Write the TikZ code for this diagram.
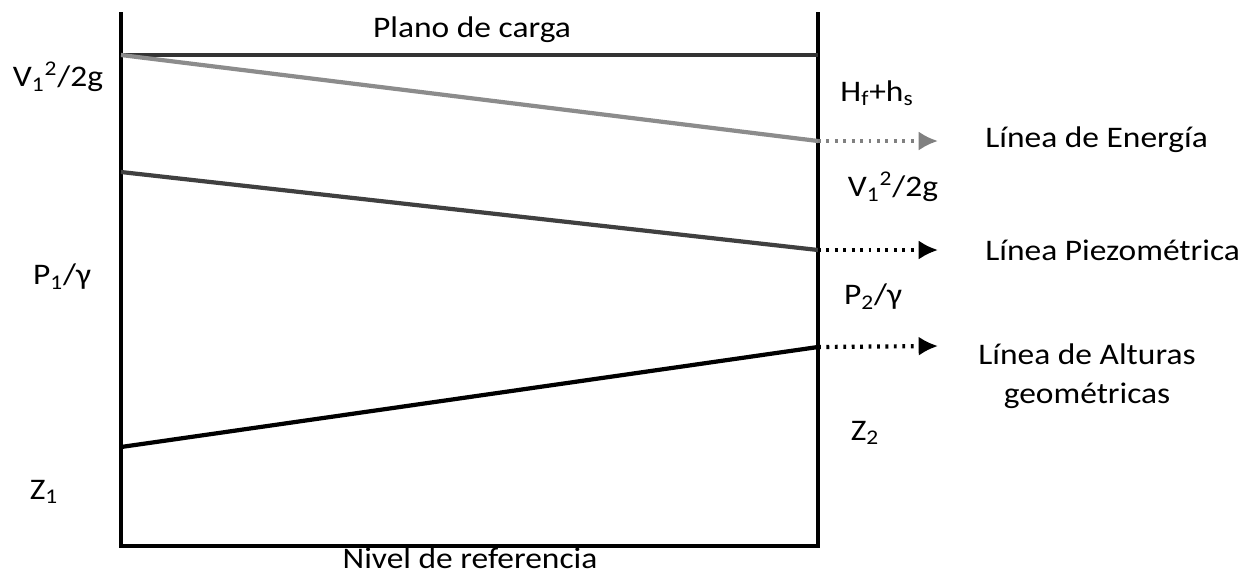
\documentclass[tikz,border=0pt]{standalone}
\usepackage{fontspec}
\setmainfont[FakeStretch=1.12]{Carlito}
\usetikzlibrary{arrows.meta}
\newcommand{\sub}[1]{\textsubscript{#1}}
\newcommand{\sqr}{\textsuperscript{2}}
\begin{document}
\begin{tikzpicture}[
    x=0.02cm, y=-0.02cm,
    wall/.style={line width=2.2pt,black},
    level/.style={line width=2.4pt},
    lbl/.style={font=\fontsize{17}{22}\selectfont,inner sep=0pt},
    pointer/.style={line width=2.4pt,dash pattern=on 1.6pt off 3.2pt,-{Latex[length=11pt,width=11pt]}}
]
\useasboundingbox (0,0) rectangle (1246,576);
% tank walls and datum
\coordinate (tl) at (121,12);
\coordinate (bl) at (121,546);
\coordinate (br) at (818,546);
\coordinate (tr) at (818,12);
\draw[wall] (tl) -- (bl) -- (br) -- (tr);
% lines
\coordinate (c1) at (121,55);  \coordinate (c2) at (818,55);
\coordinate (e1) at (121,55);  \coordinate (e2) at (818,141);
\coordinate (p1) at (121,172); \coordinate (p2) at (818,250);
\coordinate (g1) at (121,447); \coordinate (g2) at (818,347);
\draw[level,black!80] (c1) -- (c2);
\draw[level,black!45] (e1) -- (e2);
\draw[level,black!75] (p1) -- (p2);
\draw[level,black] (g1) -- (g2);
% pointers
\coordinate (ea) at (938,141);
\coordinate (pa) at (938,250);
\coordinate (ga) at (938,346);
\draw[pointer,black!50] (e2) -- (ea);
\draw[pointer] (p2) -- (pa);
\draw[pointer] (g2) -- (ga);
% texts
\node[lbl,anchor=base] (plano) at (472,37) {Plano de carga};
\node[lbl,anchor=base] (nivel) at (470,568) {Nivel de referencia};
\node[lbl] (vl) at (58,77) {V\sub{1}\sqr/2g};
\node[lbl] (pl) at (62,277) {P\sub{1}/γ};
\node[lbl] (zl) at (44,492) {Z\sub{1}};
\node[lbl] (hr) at (877,93) {H\sub{f}+h\sub{s}};
\node[lbl] (vr) at (893,187) {V\sub{1}\sqr/2g};
\node[lbl] (pr) at (873,297) {P\sub{2}/γ};
\node[lbl] (zr) at (865,433) {Z\sub{2}};
\node[lbl,anchor=west] (energia) at (985,140) {Línea de Energía};
\node[lbl,anchor=west] (piezo) at (985,250) {Línea Piezométrica};
\node[lbl,align=center] (alturas) at (1087,376) {Línea de Alturas\\geométricas};
\end{tikzpicture}
\end{document}
